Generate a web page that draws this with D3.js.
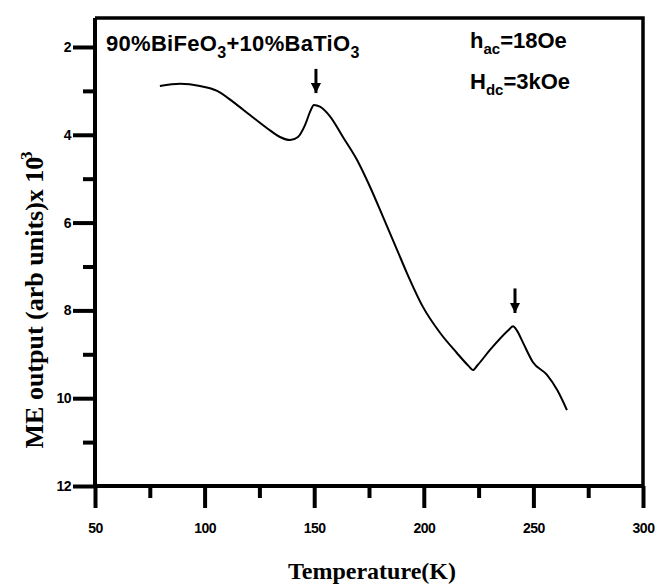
<!DOCTYPE html>
<html>
<head>
<meta charset="utf-8">
<script src="https://cdn.jsdelivr.net/npm/d3@7"></script>
<style>
  body { margin: 0; background: #fff; }
  svg { display: block; }
</style>
</head>
<body>
<svg id="chart" width="660" height="584"></svg>
<script>
// temperature (K) and ME output
const temps = [79.6, 88.8, 97.9, 105.7, 113.0, 120.7, 128.5, 134.4, 139.0, 142.6, 145.8, 148.1, 149.9,
               152.6, 157.2, 163.1, 169.5, 175.5, 181.4, 187.8, 192.3, 199.6, 207.4, 215.1, 220.5, 222.4,
               224.5, 230.2, 238.8, 240.7, 242.5, 245.3, 249.8, 256.2, 260.8, 265.3]
const meOut = [2.89, 2.84, 2.89, 3.00, 3.25, 3.55, 3.85, 4.05, 4.12, 4.05, 3.78, 3.48, 3.32,
               3.36, 3.58, 4.05, 4.57, 5.19, 5.87, 6.62, 7.15, 7.92, 8.51, 8.97, 9.27, 9.36,
               9.25, 8.90, 8.44, 8.36, 8.46, 8.74, 9.18, 9.47, 9.81, 10.27]

const xMajor = [50, 100, 150, 200, 250, 300]
const xMinor = [75, 125, 175, 225, 275]
const yMajor = [2, 4, 6, 8, 10, 12]
const yMinor = [3, 5, 7, 9, 11]

// transition markers (arrows)
const arrowT = [150.8, 241.6]
const arrowFrom = [2.5, 7.5]
const arrowTo = [3.05, 8.06]

const pLeft = 95, pRight = 643, pTop = 18, pBottom = 486

const x = d3.scaleLinear().domain([50, 300]).range([pLeft, pRight])
const y = d3.scaleLinear().domain([1.34, 12]).range([pTop, pBottom])

const svg = d3.select('#chart')

const tickFont = 'Liberation Sans, Arial, sans-serif'
const titleFont = 'Liberation Serif, Times New Roman, serif'

// frame top / right
svg.append('path')
  .attr('d', `M${pLeft},${pTop}H${pRight}V${pBottom}`)
  .attr('fill', 'none')
  .attr('stroke', '#000')
  .attr('stroke-width', 3.5)

// x axis
let xAxis = svg.append('g')
  .attr('transform', `translate(0,${pBottom})`)
  .call(d3.axisBottom(x).tickValues(xMajor).tickSize(22).tickPadding(15).tickFormat(d3.format('d')))
xAxis.select('.domain').remove()
xAxis.selectAll('line').attr('stroke', '#000').attr('stroke-width', 4)
xAxis.selectAll('text')
  .style('font-family', tickFont)
  .style('font-weight', 'bold')
  .style('font-size', '14px')
  .style('letter-spacing', '-0.5px')

svg.append('g')
  .attr('transform', `translate(0,${pBottom})`)
  .call(d3.axisBottom(x).tickValues(xMinor).tickSize(12).tickFormat(''))
  .call(g => g.select('.domain').remove())
  .selectAll('line').attr('stroke', '#000').attr('stroke-width', 4)

// y axis
let yAxis = svg.append('g')
  .attr('transform', `translate(${pLeft},0)`)
  .call(d3.axisLeft(y).tickValues(yMajor).tickSize(22).tickPadding(2).tickFormat(d3.format('d')))
yAxis.select('.domain').remove()
yAxis.selectAll('line').attr('stroke', '#000').attr('stroke-width', 4)
yAxis.selectAll('text')
  .style('font-family', tickFont)
  .style('font-weight', 'bold')
  .style('font-size', '14px')
  .style('letter-spacing', '-0.5px')

svg.append('g')
  .attr('transform', `translate(${pLeft},0)`)
  .call(d3.axisLeft(y).tickValues(yMinor).tickSize(12).tickFormat(''))
  .call(g => g.select('.domain').remove())
  .selectAll('line').attr('stroke', '#000').attr('stroke-width', 4)

// axis lines on top of ticks
svg.append('path')
  .attr('d', `M${pLeft},${pTop}V${pBottom}H${pRight}`)
  .attr('fill', 'none')
  .attr('stroke', '#000')
  .attr('stroke-width', 4)

// curve
const line = d3.line()
  .x(i => x(temps[i]))
  .y(i => y(meOut[i]))
  .curve(d3.curveMonotoneX)

svg.append('path')
  .datum(d3.range(temps.length))
  .attr('d', line)
  .attr('fill', 'none')
  .attr('stroke', '#000')
  .attr('stroke-width', 2)

// arrows
svg.append('defs').append('marker')
  .attr('id', 'head')
  .attr('viewBox', '0 0 10 10')
  .attr('refX', 10).attr('refY', 5)
  .attr('markerWidth', 3.4).attr('markerHeight', 3.4)
  .attr('orient', 'auto')
  .append('path')
  .attr('d', 'M0,0L10,5L0,10Z')
  .attr('fill', '#000')

svg.selectAll('.arrow')
  .data(arrowT)
  .enter()
  .append('line')
  .attr('class', 'arrow')
  .attr('x1', d => x(d))
  .attr('x2', d => x(d))
  .attr('y1', (d, i) => y(arrowFrom[i]))
  .attr('y2', (d, i) => y(arrowTo[i]))
  .attr('stroke', '#000')
  .attr('stroke-width', 3)
  .attr('marker-end', 'url(#head)')

// annotations
let comp = svg.append('text')
  .attr('x', 106)
  .attr('y', 51)
  .style('font-family', tickFont)
  .style('font-weight', 'bold')
  .style('font-size', '22px')
  .style('letter-spacing', '0.3px')
comp.append('tspan').text('90%BiFeO')
comp.append('tspan').attr('dy', 7).style('font-size', '16px').text('3')
comp.append('tspan').attr('dy', -7).text('+10%BaTiO')
comp.append('tspan').attr('dy', 7).style('font-size', '16px').text('3')

let hac = svg.append('text')
  .attr('x', 470)
  .attr('y', 48)
  .style('font-family', tickFont)
  .style('font-weight', 'bold')
  .style('font-size', '22px')
hac.append('tspan').text('h')
hac.append('tspan').attr('dy', 6).style('font-size', '15px').text('ac')
hac.append('tspan').attr('dy', -6).text('=18Oe')

let hdc = svg.append('text')
  .attr('x', 470)
  .attr('y', 89)
  .style('font-family', tickFont)
  .style('font-weight', 'bold')
  .style('font-size', '22px')
hdc.append('tspan').text('H')
hdc.append('tspan').attr('dy', 6).style('font-size', '15px').text('dc')
hdc.append('tspan').attr('dy', -6).text('=3kOe')

// axis titles
svg.append('text')
  .attr('x', 372)
  .attr('y', 579)
  .attr('text-anchor', 'middle')
  .style('font-family', titleFont)
  .style('font-weight', 'bold')
  .style('font-size', '24px')
  .text('Temperature(K)')

let yTitle = svg.append('text')
  .attr('transform', 'translate(43,300) rotate(-90)')
  .attr('text-anchor', 'middle')
  .style('font-family', titleFont)
  .style('font-weight', 'bold')
  .style('font-size', '26px')
yTitle.append('tspan').text('ME output (arb units)x 10')
yTitle.append('tspan').attr('dy', -11).attr('dx', -9).style('font-size', '17px').text('-3')
</script>
</body>
</html>
